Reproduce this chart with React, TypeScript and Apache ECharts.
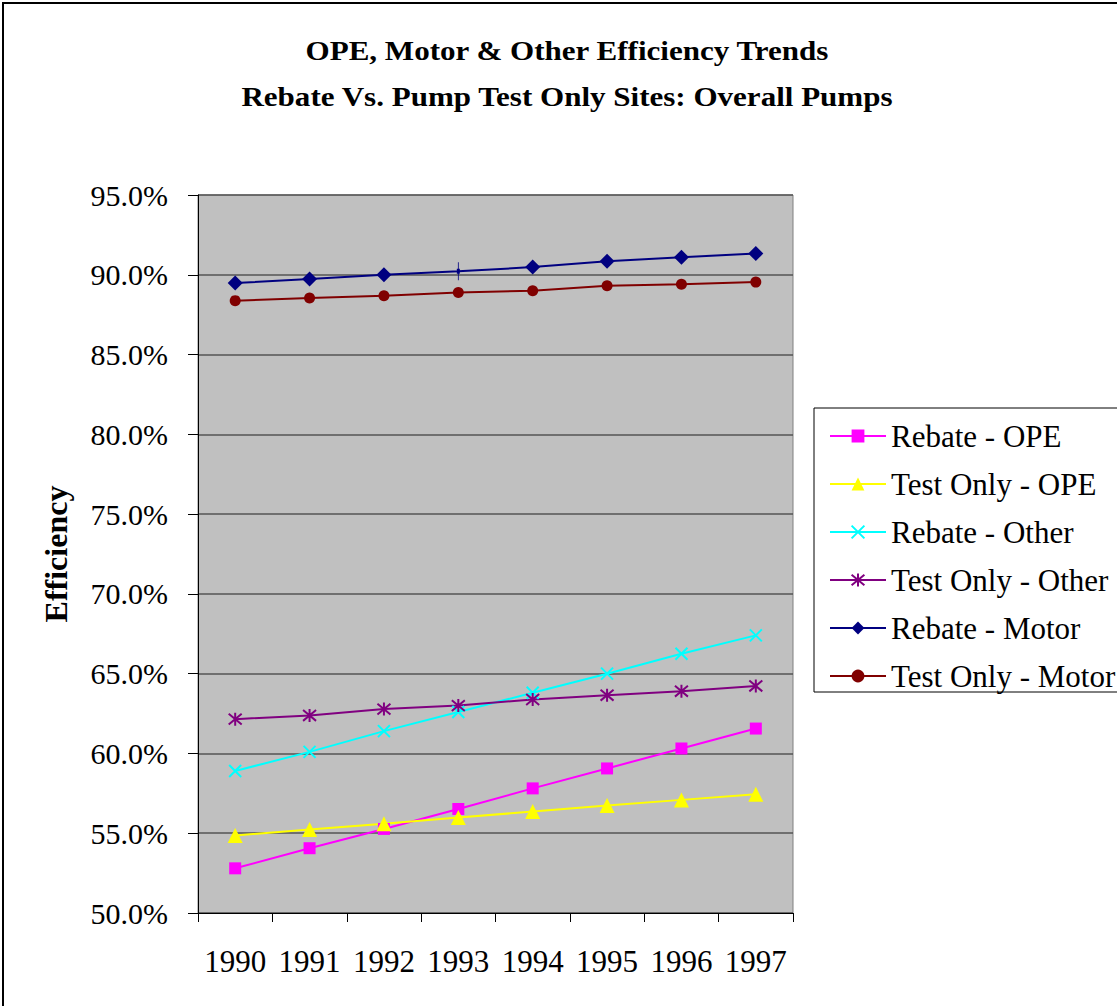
import React, { useEffect, useRef } from "react";
import * as echarts from "echarts";

const years = ["1990", "1991", "1992", "1993", "1994", "1995", "1996", "1997"];
const rebateOPE = [52.8, 54.06, 55.27, 56.52, 57.81, 59.06, 60.31, 61.56];
const testOnlyOPE = [54.86, 55.23, 55.59, 55.98, 56.36, 56.73, 57.09, 57.44];
const rebateOther = [58.9, 60.1, 61.4, 62.6, 63.8, 65.0, 66.25, 67.4];
const testOnlyOther = [62.15, 62.38, 62.78, 63.0, 63.38, 63.65, 63.9, 64.23];
const rebateMotor = [89.48, 89.73, 90.0, 90.22, 90.48, 90.85, 91.1, 91.33];
const testOnlyMotor = [88.38, 88.54, 88.69, 88.89, 89.0, 89.31, 89.41, 89.54];
const yTicks = { min: 50, max: 95, interval: 5 };

const FONT = "'Liberation Serif', 'Times New Roman', serif";
const CROSS = "path://M0,0 L10,10 M10,0 L0,10";
const STAR = "path://M0,0 L10,10 M10,0 L0,10 M5,-1 L5,11";

export default function App() {
  const ref = useRef<HTMLDivElement>(null);
  useEffect(() => {
    document.body.style.margin = "0";
    const chart = echarts.init(ref.current!, null, { renderer: "svg" });
    const mk = (name: string, data: any[], color: string, symbol: string, size: number, stroke = false) => ({
      name,
      type: "line",
      data,
      symbol,
      symbolSize: size,
      lineStyle: { color, width: 2 },
      itemStyle: stroke
        ? { color, borderColor: color, borderWidth: 2 }
        : { color, borderWidth: 0 },
    });
    const motorData: any[] = rebateMotor.map((v, i) =>
      i === 3
        ? { value: v, symbol: "path://M0,0 L0,10 M-1,5 L1,5", symbolSize: [3, 18], itemStyle: { color: "#000080", borderColor: "#000080", borderWidth: 2 } }
        : v
    );
    chart.setOption({
      animation: false,
      backgroundColor: "#ffffff",
      graphic: [
        { type: "rect", shape: { x: 3, y: 3, width: 1200, height: 1100 }, style: { fill: "none", stroke: "#000", lineWidth: 2 } },
        { type: "rect", shape: { x: 814, y: 408, width: 400, height: 284 }, style: { fill: "none", stroke: "#000", lineWidth: 1 } },
        { type: "text", x: 567, y: 51, scaleX: 1.15, style: { text: "OPE, Motor & Other Efficiency Trends", font: `bold 27px ${FONT}`, textAlign: "center", textVerticalAlign: "middle", fill: "#000" } },
        { type: "text", x: 567, y: 97, scaleX: 1.15, style: { text: "Rebate Vs. Pump Test Only Sites: Overall Pumps", font: `bold 27px ${FONT}`, textAlign: "center", textVerticalAlign: "middle", fill: "#000" } },
      ],
      grid: { left: 198, top: 195, width: 595, height: 718, show: true, backgroundColor: "#C0C0C0", borderColor: "#808080", borderWidth: 1 },
      legend: {
        orient: "vertical",
        left: 824,
        top: 414,
        itemWidth: 56,
        itemHeight: 16,
        itemGap: 14,
        textStyle: { fontFamily: FONT, fontSize: 31, color: "#000", lineHeight: 34 },
      },
      xAxis: {
        type: "category",
        data: years,
        boundaryGap: true,
        axisLine: { lineStyle: { color: "#000", width: 1 } },
        axisTick: { show: true, interval: 0, length: 9, lineStyle: { color: "#000" } },
        axisLabel: { interval: 0, hideOverlap: false, fontFamily: FONT, fontSize: 31, color: "#000", margin: 33 },
      },
      yAxis: {
        type: "value",
        min: yTicks.min,
        max: yTicks.max,
        interval: yTicks.interval,
        name: "Efficiency",
        nameLocation: "middle",
        nameRotate: 90,
        nameGap: 126,
        nameTextStyle: { fontFamily: FONT, fontSize: 32, fontWeight: "bold", color: "#000" },
        axisLine: { show: true, lineStyle: { color: "#000" } },
        axisTick: { show: true, length: 10, lineStyle: { color: "#000" } },
        splitLine: { show: true, lineStyle: { color: "#555555", width: 1.5 } },
        axisLabel: { fontFamily: FONT, fontSize: 30, color: "#000", margin: 30, formatter: (v: number) => v.toFixed(1) + "%" },
      },
      series: [
        mk("Rebate - OPE", rebateOPE, "#FF00FF", "rect", 12),
        mk("Test Only - OPE", testOnlyOPE, "#FFFF00", "triangle", 15),
        mk("Rebate - Other", rebateOther, "#00FFFF", CROSS, 12, true),
        mk("Test Only - Other", testOnlyOther, "#800080", STAR, 13, true),
        mk("Rebate - Motor", motorData, "#000080", "diamond", 15),
        mk("Test Only - Motor", testOnlyMotor, "#800000", "circle", 11),
      ],
    });
    return () => chart.dispose();
  }, []);
  return <div ref={ref} style={{ width: 1117, height: 1006 }} />;
}
